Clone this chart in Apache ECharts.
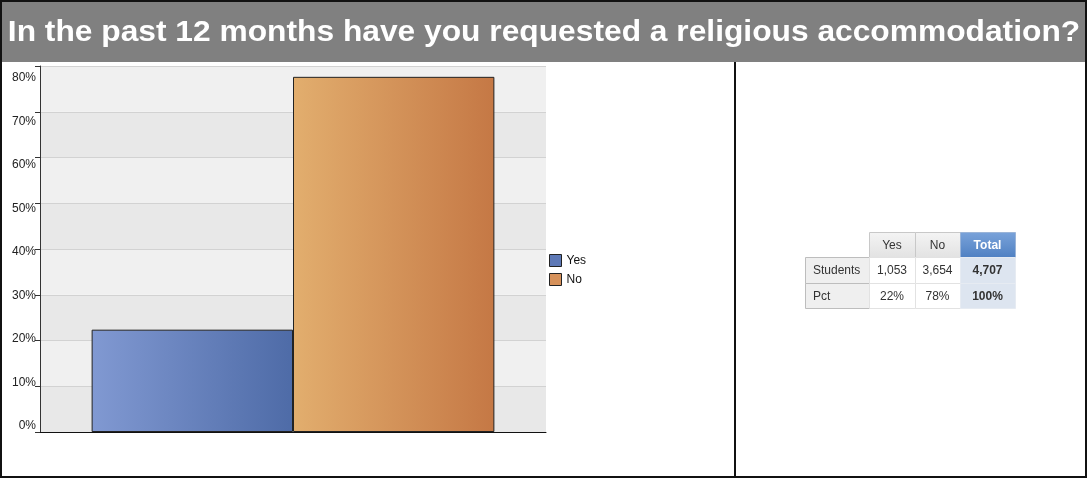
<!DOCTYPE html>
<html>
<head>
<meta charset="utf-8">
<script src="https://cdn.jsdelivr.net/npm/echarts@6/dist/echarts.min.js"></script>
<style>
html,body{margin:0;padding:0;background:#fff;}
#chart{width:1088px;height:479px;}
</style>
</head>
<body>
<div id="chart"></div>
<script>
// ---- data ----
var titleText = 'In the past 12 months have you requested a religious accommodation?';
var seriesNames = ['Yes', 'No'];
var students = [1053, 3654];
var pctValues = [22.37, 77.63];
var pctLabels = ['22%', '78%'];
var totalStudents = '4,707';
var totalPct = '100%';
var rowLabels = ['Students', 'Pct'];
var yTicks = [0, 10, 20, 30, 40, 50, 60, 70, 80];

var chart = echarts.init(document.getElementById('chart'), null, {renderer: 'canvas'});

function fmt(n){ return n.toString().replace(/\B(?=(\d{3})+(?!\d))/g, ','); }

// ---- table via graphic ----
var colX = [805, 869, 915, 960, 1015];
var rowY = [232, 257, 283, 308];
var g = [];
function cell(c, r, fill, stroke, text, opts){
  opts = opts || {};
  var x = colX[c], y = rowY[r], w = colX[c+1]-colX[c], h = rowY[r+1]-rowY[r];
  g.push({type:'rect', shape:{x:x+0.5, y:y+0.5, width:w, height:h}, style:{fill:fill, stroke:stroke, lineWidth:1}, z:10});
  if (text !== null) {
    g.push({type:'text', z:11, style:{
      text:text, x: opts.align==='left' ? x+8 : x+w/2+ (opts.dx||0), y:y+h/2+1,
      align: opts.align||'center', verticalAlign:'middle',
      font: (opts.bold?'bold ':'') + '12px "Liberation Sans", Arial, sans-serif',
      fill: opts.color || '#333'}});
  }
}
var hdrGrad = new echarts.graphic.LinearGradient(0,0,0,1,[{offset:0,color:'#f4f4f4'},{offset:1,color:'#e2e2e2'}]);
var totGrad = new echarts.graphic.LinearGradient(0,0,0,1,[{offset:0,color:'#7aa3da'},{offset:1,color:'#4f80c2'}]);
cell(1,0,hdrGrad,'#c8c8c8',seriesNames[0]);
cell(2,0,hdrGrad,'#c8c8c8',seriesNames[1]);
cell(3,0,totGrad,'#9ab4d8','Total',{bold:true,color:'#fff'});
cell(0,1,'#efefef','#bdbdbd',rowLabels[0],{align:'left'});
cell(1,1,'#fff','#e2e2e2',fmt(students[0]));
cell(2,1,'#fff','#e2e2e2',fmt(students[1]));
cell(3,1,'#dde5f0','#e6ebf2',totalStudents,{bold:true});
cell(0,2,'#efefef','#bdbdbd',rowLabels[1],{align:'left'});
cell(1,2,'#fff','#e2e2e2',pctLabels[0]);
cell(2,2,'#fff','#e2e2e2',pctLabels[1]);
cell(3,2,'#dde5f0','#e6ebf2',totalPct,{bold:true});

// frame and title background
g.unshift({type:'rect', shape:{x:1, y:1, width:1085, height:61}, style:{fill:'#808080'}, z:0});
g.push({type:'rect', shape:{x:1, y:1, width:1085, height:476}, style:{fill:'none', stroke:'#111', lineWidth:2}, z:20});
g.push({type:'line', shape:{x1:735, y1:62, x2:735, y2:477}, style:{stroke:'#111', lineWidth:2}, z:20});
g.push({type:'text', z:21, x:544, y:33, scaleX:1.058, style:{text:titleText, x:0, y:0, align:'center', verticalAlign:'middle',
  font:'bold 30px "Liberation Sans", Arial, sans-serif', fill:'#fff'}});

var yesGrad = new echarts.graphic.LinearGradient(0,0,1,0,[{offset:0,color:'#8199d2'},{offset:1,color:'#4e6ba7'}]);
var noGrad = new echarts.graphic.LinearGradient(0,0,1,0,[{offset:0,color:'#e2ae6e'},{offset:1,color:'#c57845'}]);

chart.setOption({
  animation:false,
  textStyle:{fontFamily:'"Liberation Sans", Arial, sans-serif'},
  grid:[
    {left:40, top:66, width:506, height:366},
    {left:40, top:78, width:506, height:348, show:false}
  ],
  legend:{
    orient:'vertical', left:549, top:254, padding:0, itemWidth:12, itemHeight:12, itemGap:6,
    icon:'rect',
    textStyle:{fontSize:12, color:'#111'},
    data:[
      {name:seriesNames[0], itemStyle:{color:'#5d78b6', borderColor:'#222', borderWidth:1}},
      {name:seriesNames[1], itemStyle:{color:'#d6915a', borderColor:'#222', borderWidth:1}}
    ]
  },
  xAxis:[
    {type:'category', gridIndex:0, data:[''],
     axisLine:{lineStyle:{color:'#111', width:1}},
     axisTick:{alignWithLabel:true, length:5, lineStyle:{color:'#555'}},
     axisLabel:{show:false}},
    {type:'category', gridIndex:1, data:[''], show:false}
  ],
  yAxis:[
    {type:'value', gridIndex:0, min:0, max:80, interval:10,
     axisLine:{show:true, lineStyle:{color:'#333'}},
     axisTick:{show:true, length:5, lineStyle:{color:'#333'}},
     axisLabel:{show:false},
     splitLine:{show:true, lineStyle:{color:'#d2d2d2'}},
     splitArea:{show:true, areaStyle:{color:['#e8e8e8','#f0f0f0']}}},
    {type:'value', gridIndex:1, min:0, max:80, interval:10,
     axisLine:{show:false}, axisTick:{show:false}, splitLine:{show:false},
     axisLabel:{margin:4, fontSize:12, color:'#222', formatter:function(v){return v+'%';}}}
  ],
  series:[
    {name:seriesNames[0], type:'bar', xAxisIndex:0, yAxisIndex:0, data:[pctValues[0]],
     barGap:'0%', barCategoryGap:'20.4%',
     itemStyle:{color:yesGrad, borderColor:'#222', borderWidth:1}},
    {name:seriesNames[1], type:'bar', xAxisIndex:0, yAxisIndex:0, data:[pctValues[1]],
     barGap:'0%', barCategoryGap:'20.4%',
     itemStyle:{color:noGrad, borderColor:'#222', borderWidth:1}}
  ],
  graphic:g
});
</script>
</body>
</html>
